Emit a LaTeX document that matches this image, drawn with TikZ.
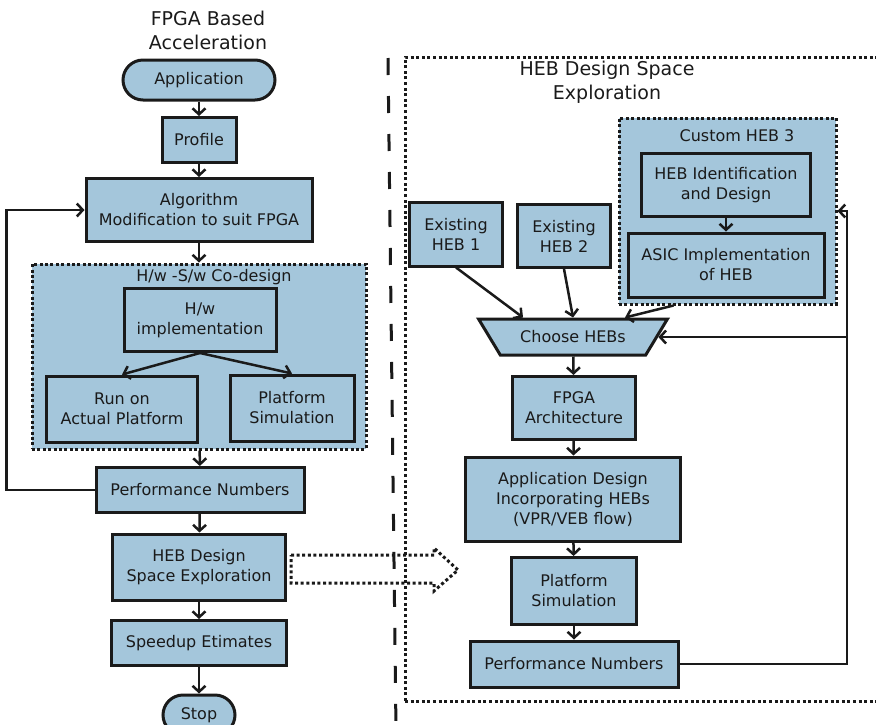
\documentclass[tikz,border=0pt]{standalone}
\usepackage{fontspec}
\setmainfont{DejaVu Sans}
\definecolor{boxfill}{HTML}{A4C6DB}
\definecolor{ink}{HTML}{1A1A1A}
\usetikzlibrary{arrows.meta, shapes.geometric}

\begin{document}
\begin{tikzpicture}[x=1pt, y=-1pt,
  every node/.style={font=\fontsize{16}{20}\selectfont, text=ink},
  blk/.style={draw=ink, fill=boxfill, line width=3pt, align=center, inner sep=2pt},
  term/.style={blk, rounded corners=20pt},
  grp/.style={draw=ink, fill=boxfill, line width=3pt, dash pattern=on 3pt off 2.4pt},
  ttl/.style={font=\fontsize{19}{24}\selectfont, align=center},
  arr/.style={draw=ink, line width=2.5pt, -{Straight Barb[length=6pt,width=13pt]}},
  dotline/.style={draw=ink, line width=3pt, dash pattern=on 3pt off 2.6pt},
  sepline/.style={draw=ink, line width=3pt, dash pattern=on 17pt off 21pt}
]
  \useasboundingbox (0,0) rectangle (876,724);

  % left flow
  \node[ttl] (ttlL) at (208,30) {FPGA Based\\Acceleration};
  \node[term, minimum width=152pt, minimum height=40pt] (app) at (199,80) {Application};
  \node[blk, minimum width=74pt, minimum height=45pt] (prof) at (199,140) {Profile};
  \node[blk, minimum width=226pt, minimum height=63pt] (algo) at (199,210) {Algorithm\\Modification to suit FPGA};

  \node[grp, minimum width=334pt, minimum height=185pt] (cod) at (199,356.5) {};
  \node (codlbl) at (214,277) {H/w -S/w Co-design};
  \node[blk, minimum width=152pt, minimum height=63pt] (hw) at (200,320) {H/w\\implementation};
  \node[blk, minimum width=151pt, minimum height=66pt] (run) at (122,409) {Run on\\Actual Platform};
  \node[blk, minimum width=124pt, minimum height=66pt] (psim) at (292,408) {Platform\\Simulation};

  \node[blk, minimum width=208pt, minimum height=45pt] (perf) at (200,490) {Performance Numbers};
  \node[blk, minimum width=173pt, minimum height=66pt] (heb) at (199,567) {HEB Design\\Space Exploration};
  \node[blk, minimum width=175pt, minimum height=45pt] (speed) at (199,643) {Speedup Etimates};
  \node[term, minimum width=72pt, minimum height=40pt] (stop) at (199,715) {Stop};

  \draw[arr] (app) -- (prof);
  \draw[arr] (prof) -- (algo);
  \draw[arr] (algo) -- (cod);
  \draw[arr] (hw.south) -- (run.north);
  \draw[arr] (hw.south) -- (psim.north);
  \draw[arr] (cod) -- (perf);
  \draw[arr] (perf) -- (heb);
  \draw[arr] (heb) -- (speed);
  \draw[arr] (speed) -- (stop);
  \draw[arr] (perf.west) -- ++(-88,0) |- (algo.west);

  % separator and exploration frame
  \draw[sepline] (388,58) -- (396,730);
  \draw[dotline] (405,701) |- (890,57);
  \draw[dotline] (405,701) -- (890,701);
  \node[ttl] (ttlR) at (607,82) {HEB Design Space\\Exploration};

  \draw[dotline] ([xshift=4pt]heb.east) ++(0,-12) -- ++(143,0) -- ++(0,-7)
    -- ++(24,22) -- ++(-24,21) -- ++(0,-8) -- ++(-143,0) -- cycle;

  % right flow
  \node[grp, minimum width=217pt, minimum height=186pt] (cust) at (727.5,211) {};
  \node (custlbl) at (737,136) {Custom HEB 3};
  \node[blk, minimum width=169pt, minimum height=63pt] (ident) at (726,185) {HEB Identification\\and Design};
  \node[blk, minimum width=196pt, minimum height=64pt] (asic) at (726,265) {ASIC Implementation\\of HEB};
  \node[blk, minimum width=93pt, minimum height=64pt] (heb1) at (456,234) {Existing\\HEB 1};
  \node[blk, minimum width=93pt, minimum height=63pt] (heb2) at (564,236) {Existing\\HEB 2};
  \node[blk, trapezium, trapezium angle=45, shape border rotate=180, trapezium stretches=true,
        minimum width=189pt, minimum height=36pt] (choose) at (573,337) {Choose HEBs};
  \node[blk, minimum width=123pt, minimum height=63pt] (arch) at (574,408) {FPGA\\Architecture};
  \node[blk, minimum width=215pt, minimum height=84pt] (appd) at (573,499) {Application Design\\Incorporating HEBs\\(VPR/VEB flow)};
  \node[blk, minimum width=125pt, minimum height=67pt] (psim2) at (574,591) {Platform\\Simulation};
  \node[blk, minimum width=208pt, minimum height=46pt] (perf2) at (574,664) {Performance Numbers};

  \draw[arr] (ident) -- (asic);
  \draw[arr] (heb1.south) -- ([xshift=-50pt]choose.north);
  \draw[arr] (heb2.south) -- (choose.north);
  \draw[arr] ([xshift=-54pt]cust.south) -- ([xshift=52pt]choose.north);
  \draw[arr] (choose) -- (arch);
  \draw[arr] (arch) -- (appd);
  \draw[arr] (appd) -- (psim2);
  \draw[arr] (psim2) -- (perf2);
  \coordinate (fbr) at (847,664);
  \draw[arr] (perf2.east) -- (fbr) |- (cust.east);
  \draw[arr] (fbr |- choose.east) -- (choose.east);
\end{tikzpicture}
\end{document}
